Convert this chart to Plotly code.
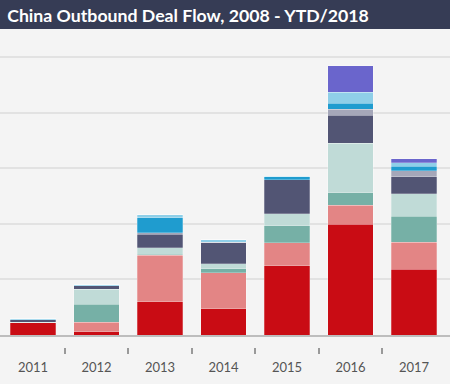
import plotly.graph_objects as go

years = ['2011', '2012', '2013', '2014', '2015', '2016', '2017']
red = [2.16, 0.55, 6.0, 4.68, 12.47, 19.96, 11.87]
salmon = [0, 1.73, 8.3, 6.53, 4.08, 3.42, 4.8]
teal = [0, 3.24, 0.23, 0.67, 3.12, 2.21, 4.68]
ltteal = [0.12, 2.7, 1.17, 0.9, 2.1, 8.88, 4.08]
navy = [0.45, 0.67, 2.4, 3.89, 6.12, 5.04, 3.0]
gray = [0, 0, 0.3, 0, 0, 1.08, 1.08]
blue = [0, 0, 2.7, 0, 0.55, 1.08, 0.85]
ltblue = [0.18, 0.15, 0.5, 0.49, 0.12, 2.03, 0.6]
purple = [0, 0, 0, 0, 0, 4.73, 0.78]

boundaries = [0.5, 1.5, 2.5, 3.5, 4.5, 5.5]

series = [
    ("Series 1", red, "#c90c14"),
    ("Series 2", salmon, "#e38585"),
    ("Series 3", teal, "#76b0a6"),
    ("Series 4", ltteal, "#c0dbd7"),
    ("Series 5", navy, "#525574"),
    ("Series 6", gray, "#a5a7b9"),
    ("Series 7", blue, "#1f9ccf"),
    ("Series 8", ltblue, "#8fcfe8"),
    ("Series 9", purple, "#6a65cc"),
]

fig = go.Figure()
for name, vals, col in series:
    fig.add_trace(go.Bar(x=years, y=vals, name=name,
                         marker=dict(color=col, line=dict(color="rgba(255,255,255,0.5)", width=0.5))))

# helper invisible trace for tick axis
fig.add_trace(go.Scatter(x=[0], y=[0], xaxis="x2", yaxis="y", mode="markers",
                         marker=dict(opacity=0), hoverinfo="skip", showlegend=False))

H = 384
t = 29
plot_h = H - t
fig.update_layout(
    width=450, height=384,
    margin=dict(l=0, r=0, t=t, b=0, autoexpand=False),
    barmode="stack", bargap=0.283,
    paper_bgcolor="#f4f4f4", plot_bgcolor="#f4f4f4",
    showlegend=False,
    title=dict(text="<b>China Outbound Deal Flow, 2008 - YTD/2018</b>",
               x=0.016, xanchor="left", y=1 - 15.5 / H, yanchor="middle",
               font=dict(family="Lato", size=17.7, color="#ffffff")),
    xaxis=dict(type="category", range=[-0.52, 6.567], showline=True, linecolor="#bdbdbd",
               linewidth=1.5, ticks="outside", ticklen=20, tickcolor="rgba(0,0,0,0)",
               tickfont=dict(family="Lato", size=13, color="#555555"), showgrid=False,
               automargin=False),
    xaxis2=dict(overlaying="x", anchor="free", position=(H - 347) / plot_h, side="bottom",
                type="linear", range=[-0.52, 6.567], tickvals=boundaries, ticks="outside",
                ticklen=6, tickwidth=1.5, tickcolor="#999999", showticklabels=False,
                showgrid=False, showline=False, zeroline=False),
    yaxis=dict(domain=[(H - 335) / plot_h, 1], range=[0, (335 - t) / 5.56], dtick=10,
               showticklabels=False, gridcolor="#e2e2e2", gridwidth=1.5, zeroline=False),
    shapes=[dict(type="rect", xref="paper", yref="paper", x0=0, x1=1,
                 y0=1, y1=1 + t / plot_h + 0.01, fillcolor="#363c55", line=dict(width=0),
                 layer="below")],
)

fig.write_html("out.html", config={"displayModeBar": False},
               post_script="document.body.style.margin='0';")
